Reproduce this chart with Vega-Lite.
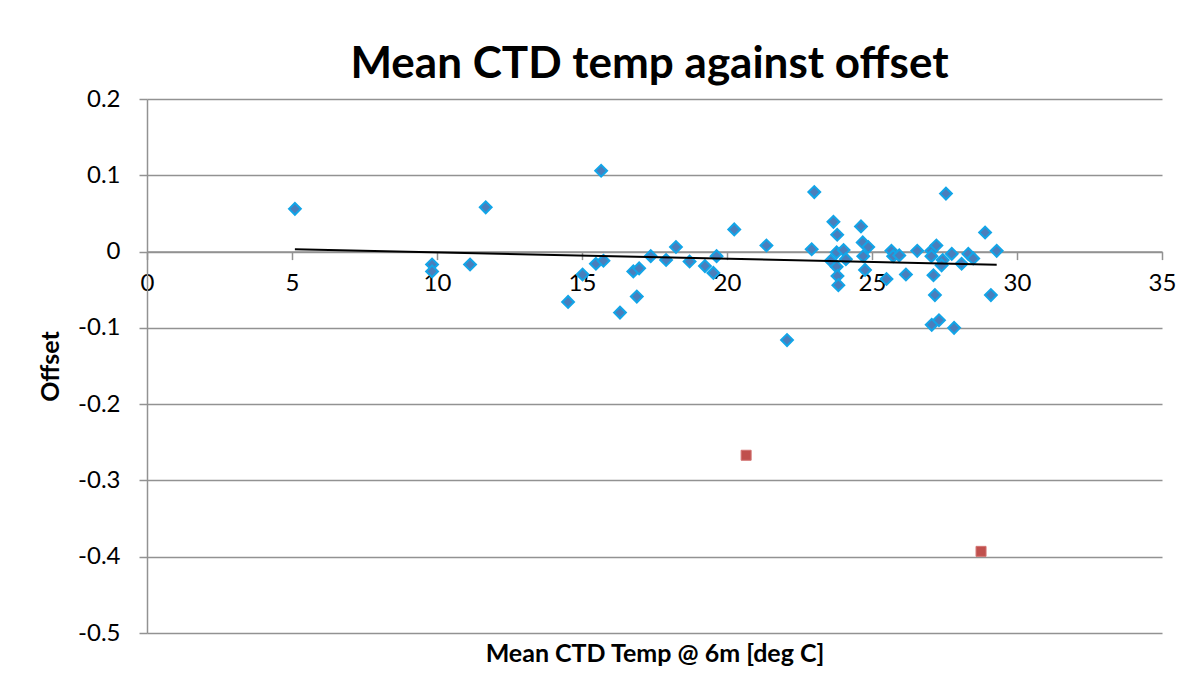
{
  "$schema": "https://vega.github.io/schema/vega-lite/v6.json",
  "width": 1015,
  "height": 534,
  "autosize": {"type": "none"},
  "padding": {"left": 147, "top": 99, "right": 41, "bottom": 67},
  "background": "white",
  "config": {
    "view": {"stroke": null},
    "font": "Lato",
    "axis": {"labelFont": "Lato", "titleFont": "Lato", "labelColor": "black", "titleColor": "black"}
  },
  "title": {
    "text": "Mean CTD temp against offset",
    "font": "Lato",
    "fontSize": 44,
    "fontWeight": "bold",
    "color": "black",
    "anchor": "middle",
    "baseline": "alphabetic",
    "offset": -35,
    "dx": -5
  },
  "data": {
    "values": [
      {"temp": 5.1, "offset": 0.056, "s": "main"},
      {"temp": 9.83, "offset": -0.017, "s": "main"},
      {"temp": 9.83, "offset": -0.026, "s": "main"},
      {"temp": 11.14, "offset": -0.017, "s": "main"},
      {"temp": 11.68, "offset": 0.058, "s": "main"},
      {"temp": 14.52, "offset": -0.066, "s": "main"},
      {"temp": 15.02, "offset": -0.030, "s": "main"},
      {"temp": 15.48, "offset": -0.016, "s": "main"},
      {"temp": 15.66, "offset": 0.106, "s": "main"},
      {"temp": 15.74, "offset": -0.012, "s": "main"},
      {"temp": 16.31, "offset": -0.080, "s": "main"},
      {"temp": 16.77, "offset": -0.026, "s": "main"},
      {"temp": 16.97, "offset": -0.022, "s": "main"},
      {"temp": 16.89, "offset": -0.059, "s": "main"},
      {"temp": 17.37, "offset": -0.006, "s": "main"},
      {"temp": 17.90, "offset": -0.011, "s": "main"},
      {"temp": 18.24, "offset": 0.006, "s": "main"},
      {"temp": 18.71, "offset": -0.013, "s": "main"},
      {"temp": 19.24, "offset": -0.019, "s": "main"},
      {"temp": 19.53, "offset": -0.028, "s": "main"},
      {"temp": 19.64, "offset": -0.006, "s": "main"},
      {"temp": 20.25, "offset": 0.029, "s": "main"},
      {"temp": 21.36, "offset": 0.008, "s": "main"},
      {"temp": 22.07, "offset": -0.116, "s": "main"},
      {"temp": 22.92, "offset": 0.003, "s": "main"},
      {"temp": 23.01, "offset": 0.078, "s": "main"},
      {"temp": 23.67, "offset": 0.039, "s": "main"},
      {"temp": 23.80, "offset": 0.022, "s": "main"},
      {"temp": 23.58, "offset": -0.012, "s": "main"},
      {"temp": 23.78, "offset": -0.001, "s": "main"},
      {"temp": 24.02, "offset": 0.002, "s": "main"},
      {"temp": 24.10, "offset": -0.010, "s": "main"},
      {"temp": 23.78, "offset": -0.020, "s": "main"},
      {"temp": 23.81, "offset": -0.032, "s": "main"},
      {"temp": 23.84, "offset": -0.044, "s": "main"},
      {"temp": 24.62, "offset": 0.033, "s": "main"},
      {"temp": 24.68, "offset": 0.012, "s": "main"},
      {"temp": 24.70, "offset": -0.006, "s": "main"},
      {"temp": 24.76, "offset": -0.024, "s": "main"},
      {"temp": 24.87, "offset": 0.006, "s": "main"},
      {"temp": 25.50, "offset": -0.036, "s": "main"},
      {"temp": 25.67, "offset": 0.001, "s": "main"},
      {"temp": 25.73, "offset": -0.006, "s": "main"},
      {"temp": 25.94, "offset": -0.005, "s": "main"},
      {"temp": 26.17, "offset": -0.030, "s": "main"},
      {"temp": 26.56, "offset": 0.001, "s": "main"},
      {"temp": 27.05, "offset": 0.001, "s": "main"},
      {"temp": 27.22, "offset": 0.008, "s": "main"},
      {"temp": 27.05, "offset": -0.006, "s": "main"},
      {"temp": 27.12, "offset": -0.031, "s": "main"},
      {"temp": 27.17, "offset": -0.057, "s": "main"},
      {"temp": 27.06, "offset": -0.096, "s": "main"},
      {"temp": 27.31, "offset": -0.090, "s": "main"},
      {"temp": 27.83, "offset": -0.100, "s": "main"},
      {"temp": 27.55, "offset": 0.076, "s": "main"},
      {"temp": 27.44, "offset": -0.011, "s": "main"},
      {"temp": 27.40, "offset": -0.018, "s": "main"},
      {"temp": 27.75, "offset": -0.003, "s": "main"},
      {"temp": 28.09, "offset": -0.016, "s": "main"},
      {"temp": 28.32, "offset": -0.003, "s": "main"},
      {"temp": 28.49, "offset": -0.009, "s": "main"},
      {"temp": 28.90, "offset": 0.025, "s": "main"},
      {"temp": 29.10, "offset": -0.057, "s": "main"},
      {"temp": 29.30, "offset": 0.001, "s": "main"},
      {"temp": 20.66, "offset": -0.267, "s": "outlier"},
      {"temp": 28.76, "offset": -0.393, "s": "outlier"}
    ]
  },
  "encoding": {
    "y": {
      "field": "offset",
      "type": "quantitative",
      "scale": {"domain": [-0.5, 0.2], "nice": false, "zero": false},
      "axis": {
        "title": "Offset",
        "titleFontSize": 25,
        "titleFontWeight": "bold",
        "titlePadding": 14,
        "values": [-0.5, -0.4, -0.3, -0.2, -0.1, 0, 0.1, 0.2],
        "labelExpr": "replace(format(datum.value, '.1~f'), '\u2212', '-')",
        "labelFontSize": 24,
        "labelPadding": 19,
        "tickSize": 8,
        "tickColor": "#929292",
        "tickWidth": 1.5,
        "domainColor": "#929292",
        "domainWidth": 1.5,
        "grid": true,
        "gridColor": "#929292",
        "gridWidth": 1.5
      }
    }
  },
  "layer": [
    {
      "transform": [{"filter": "datum.s === 'main'"}],
      "mark": {"type": "point", "shape": "diamond", "filled": true, "size": 140, "fill": "#4a7ebb", "stroke": "#12a5e8", "strokeWidth": 2, "opacity": 1},
      "encoding": {
        "x": {
          "field": "temp",
          "type": "quantitative",
          "scale": {"domain": [0, 35], "nice": false, "zero": false},
          "axis": {
            "orient": "bottom",
            "title": null,
            "offset": -381.4,
            "values": [0, 5, 10, 15, 20, 25, 30, 35],
            "format": "d",
            "labelFontSize": 24,
            "labelPadding": 12,
            "labelFlush": false,
            "labelOverlap": false,
            "tickSize": 8,
            "tickColor": "#929292",
            "tickWidth": 1.5,
            "domainColor": "#929292",
            "domainWidth": 1.5,
            "grid": false
          }
        }
      }
    },
    {
      "transform": [{"filter": "datum.s === 'outlier'"}],
      "mark": {"type": "square", "size": 100, "fill": "#c0504d", "stroke": "#d27371", "strokeWidth": 1, "opacity": 1},
      "encoding": {
        "x": {
          "field": "temp",
          "type": "quantitative",
          "scale": {"domain": [0, 35], "nice": false, "zero": false},
          "axis": {
            "orient": "bottom",
            "title": "Mean CTD Temp @ 6m [deg C]",
            "titleFontSize": 25,
            "titleFontWeight": "bold",
            "titlePadding": 8,
            "labels": false,
            "ticks": false,
            "domain": false,
            "grid": false
          }
        }
      }
    },
    {
      "transform": [
        {"filter": "datum.s === 'main'"},
        {"regression": "offset", "on": "temp"}
      ],
      "mark": {"type": "line", "color": "black", "strokeWidth": 2},
      "encoding": {
        "x": {
          "field": "temp",
          "type": "quantitative",
          "scale": {"domain": [0, 35], "nice": false, "zero": false},
          "axis": null
        }
      }
    }
  ],
  "resolve": {"axis": {"x": "independent"}}
}
